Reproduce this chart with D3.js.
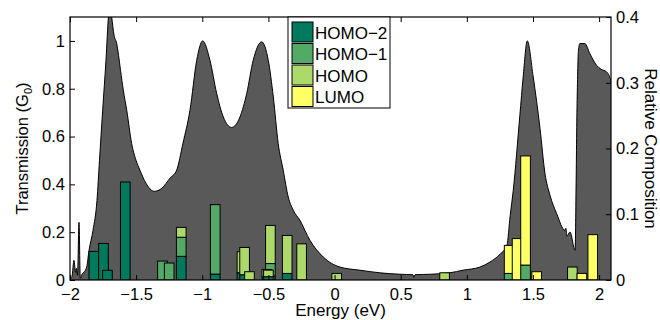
<!DOCTYPE html>
<html>
<head>
<meta charset="utf-8">
<script src="https://cdn.jsdelivr.net/npm/d3@7"></script>
<style>
  body { margin: 0; background: #fff; }
  text { font-family: "Liberation Sans", Arial, sans-serif; }
</style>
</head>
<body>
<div id="vis"></div>
<script>
// transmission curve (energy in eV, T in G0)
var transE = [-2.000, -1.985, -1.970, -1.958, -1.952, -1.943, -1.932, -1.922, -1.909, -1.894,
  -1.874, -1.856, -1.826, -1.796, -1.777, -1.753, -1.728, -1.709, -1.698, -1.685,
  -1.667, -1.647, -1.633, -1.618, -1.597, -1.571, -1.534, -1.501, -1.471, -1.426,
  -1.363, -1.305, -1.244, -1.194, -1.146, -1.093, -1.042, -0.997, -0.942, -0.891,
  -0.841, -0.778, -0.715, -0.664, -0.615, -0.551, -0.501, -0.463, -0.426, -0.388,
  -0.350, -0.312, -0.262, -0.186, -0.085, 0.041, 0.192, 0.343, 0.494, 0.593,
  0.600, 0.608, 0.721, 0.872, 0.971, 1.099, 1.175, 1.251, 1.303, 1.328,
  1.351, 1.401, 1.426, 1.457, 1.502, 1.553, 1.591, 1.629, 1.679, 1.742,
  1.749, 1.757, 1.780, 1.818, 1.834, 1.844, 1.855, 1.892, 1.930, 1.981,
  2.014, 2.057, 2.087, 2.093];
var transT = [0.003, 0.015, 0.082, 0.032, 0.049, 0.020, 0.241, 0.007, 0.024, 0.033,
  0.054, 0.124, 0.208, 0.333, 0.501, 0.710, 0.919, 1.103, 1.149, 1.100,
  1.024, 0.989, 0.940, 0.877, 0.794, 0.710, 0.571, 0.501, 0.459, 0.405,
  0.371, 0.384, 0.426, 0.459, 0.572, 0.710, 0.919, 1.000, 0.919, 0.780,
  0.682, 0.638, 0.682, 0.780, 0.919, 0.996, 0.919, 0.766, 0.571, 0.459,
  0.347, 0.292, 0.250, 0.166, 0.096, 0.054, 0.041, 0.030, 0.024, 0.022,
  0.011, 0.022, 0.024, 0.030, 0.041, 0.054, 0.075, 0.108, 0.145, 0.270,
  0.375, 0.689, 0.849, 1.000, 0.849, 0.635, 0.445, 0.354, 0.278, 0.208,
  0.216, 0.183, 0.201, 0.124, 0.752, 0.961, 0.989, 0.989, 0.947, 0.898,
  0.882, 0.870, 0.836, 0.815];

// states and their relative composition
var stateE = [-1.820, -1.747, -1.717, -1.582, -1.301, -1.250, -1.159, -0.902, -0.700, -0.680,
  -0.643, -0.485, -0.512, -0.500, -0.358, -0.249, 0.016, 0.832, 1.320, 1.380,
  1.444, 1.528, 1.798, 1.870, 1.952];
var homo2 = [0.0435, 0.0556, 0.0147, 0.149, 0, 0, 0.036, 0.009, 0.011, 0.008,
  0, 0.006, 0.005, 0.005, 0.010, 0, 0, 0, 0, 0,
  0, 0, 0, 0, 0];
var homo1 = [0, 0, 0, 0, 0.0288, 0.0258, 0.029, 0.1056, 0, 0,
  0, 0.019, 0, 0, 0, 0, 0, 0, 0.010, 0,
  0.0227, 0, 0, 0, 0];
var homo = [0, 0, 0, 0, 0, 0, 0.015, 0, 0.032, 0.0415,
  0.0126, 0.058, 0.011, 0.010, 0.0577, 0.055, 0.010, 0.011, 0, 0,
  0, 0, 0.0197, 0, 0];
var lumo = [0, 0, 0, 0, 0, 0, 0, 0, 0, 0,
  0, 0, 0, 0, 0, 0, 0, 0, 0.0426, 0.063,
  0.166, 0.0126, 0, 0.010, 0.069];

var orbitals = ["HOMO\u22122", "HOMO\u22121", "HOMO", "LUMO"];
var colors = ["#00795c", "#52aa66", "#add96b", "#ffff66"];
var xTicks = [-2, -1.5, -1, -0.5, 0, 0.5, 1, 1.5, 2];
var yTicksL = [0, 0.2, 0.4, 0.6, 0.8, 1];
var yTicksR = [0, 0.1, 0.2, 0.3, 0.4];

var w = 660, h = 320;
var pL = 70, pR = 611, pT = 17, pB = 280;
var barW = 0.073;

var svg = d3.select("#vis").append("svg")
  .attr("width", w)
  .attr("height", h);

var x = d3.scaleLinear().domain([-2, 2.09]).range([pL, pR]);
var yL = d3.scaleLinear().domain([0, 1.1]).range([pB, pT]);
var yR = d3.scaleLinear().domain([0, 0.4]).range([pB, pT]);

svg.append("clipPath").attr("id", "clip")
  .append("rect")
  .attr("x", pL).attr("y", pT)
  .attr("width", pR - pL).attr("height", pB - pT);

var trans = transE.map(function(e, i) { return {e: e, t: transT[i]}; });

var area = d3.area()
  .x(function(d) { return x(d.e); })
  .y0(yL(0))
  .y1(function(d) { return yL(d.t); })
  .curve(d3.curveMonotoneX);

var line = d3.line()
  .x(function(d) { return x(d.e); })
  .y(function(d) { return yL(d.t); })
  .curve(d3.curveMonotoneX);

var g = svg.append("g").attr("clip-path", "url(#clip)");
g.append("path").datum(trans)
  .attr("d", area)
  .attr("fill", "#595959");
g.append("path").datum(trans)
  .attr("d", line)
  .attr("fill", "none")
  .attr("stroke", "#000")
  .attr("stroke-width", 1);

// stacked composition bars
var series = [homo2, homo1, homo, lumo];
var segs = [];
stateE.forEach(function(e, i) {
  var base = 0;
  series.forEach(function(s, k) {
    if (s[i] > 0) {
      segs.push({e: e, y0: base, y1: base + s[i], k: k});
      base += s[i];
    }
  });
});

g.selectAll("rect.bar")
  .data(segs)
  .enter()
  .append("rect")
  .attr("class", "bar")
  .attr("x", function(d) { return x(d.e - barW / 2); })
  .attr("width", function(d) { return x(barW) - x(0); })
  .attr("y", function(d) { return yR(d.y1); })
  .attr("height", function(d) { return yR(d.y0) - yR(d.y1); })
  .attr("fill", function(d) { return colors[d.k]; })
  .attr("stroke", "#000")
  .attr("stroke-width", 1);

// axes
var fmt = d3.format("~g");
var axB = svg.append("g").attr("transform", "translate(0," + pB + ")")
  .call(d3.axisBottom(x).tickValues(xTicks).tickFormat(fmt).tickSizeInner(-5).tickSizeOuter(0).tickPadding(8));
var axT = svg.append("g").attr("transform", "translate(0," + pT + ")")
  .call(d3.axisTop(x).tickValues(xTicks).tickFormat("").tickSizeInner(-5).tickSizeOuter(0));
var axL = svg.append("g").attr("transform", "translate(" + pL + ",0)")
  .call(d3.axisLeft(yL).tickValues(yTicksL).tickFormat(fmt).tickSizeInner(-5).tickSizeOuter(0).tickPadding(5));
var axR = svg.append("g").attr("transform", "translate(" + pR + ",0)")
  .call(d3.axisRight(yR).tickValues(yTicksR).tickFormat(fmt).tickSizeInner(-5).tickSizeOuter(0).tickPadding(5));

[axB, axT, axL, axR].forEach(function(a) {
  a.select(".domain").remove();
  a.selectAll("text").attr("font-size", 16.5).attr("fill", "#000")
    .style("font-family", "'Liberation Sans', Arial, sans-serif");
  a.selectAll("line").attr("stroke", "#000");
});

svg.append("rect")
  .attr("x", pL).attr("y", pT)
  .attr("width", pR - pL).attr("height", pB - pT)
  .attr("fill", "none")
  .attr("stroke", "#000")
  .attr("stroke-width", 1.2);

// axis labels
svg.append("text")
  .attr("x", (pL + pR) / 2)
  .attr("y", 316)
  .attr("text-anchor", "middle")
  .attr("font-size", 17)
  .text("Energy (eV)");

var tl = svg.append("text")
  .attr("transform", "translate(28," + ((pT + pB) / 2) + ") rotate(-90)")
  .attr("text-anchor", "middle")
  .attr("font-size", 16.5);
tl.append("tspan").text("Transmission (G");
tl.append("tspan").attr("font-size", 11).attr("dy", 4).text("0");
tl.append("tspan").attr("dy", -4).text(")");

svg.append("text")
  .attr("transform", "translate(645," + ((pT + pB) / 2) + ") rotate(90)")
  .attr("text-anchor", "middle")
  .attr("font-size", 17)
  .text("Relative Composition");

// legend
var lg = svg.append("g").attr("transform", "translate(288,17)");
lg.append("rect")
  .attr("width", 102).attr("height", 91)
  .attr("fill", "#fff")
  .attr("stroke", "#000");
var items = lg.selectAll("g.item")
  .data(orbitals)
  .enter()
  .append("g")
  .attr("class", "item")
  .attr("transform", function(d, i) { return "translate(4," + (5 + i * 21.5) + ")"; });
items.append("rect")
  .attr("width", 21).attr("height", 20)
  .attr("fill", function(d, i) { return colors[i]; })
  .attr("stroke", "#000");
items.append("text")
  .attr("x", 23)
  .attr("y", 16.5)
  .attr("font-size", 17)
  .text(function(d) { return d; });
</script>
</body>
</html>
